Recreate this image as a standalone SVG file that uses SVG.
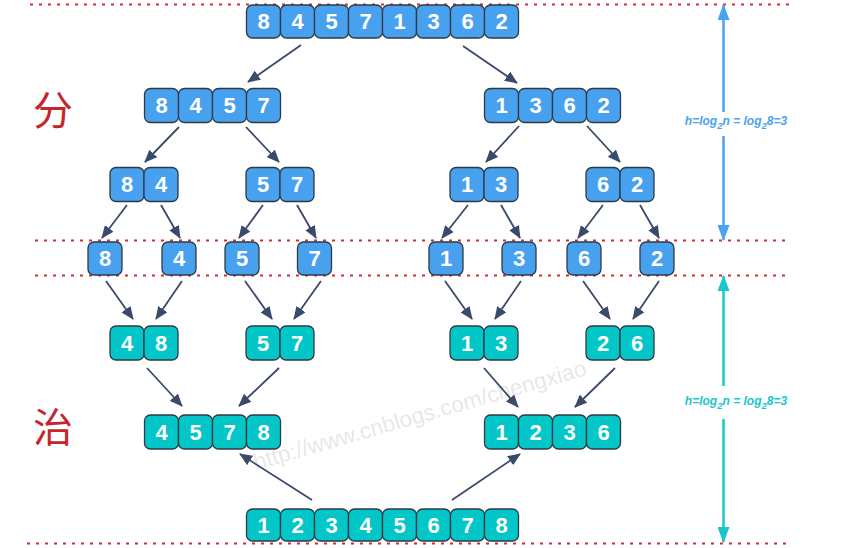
<svg xmlns="http://www.w3.org/2000/svg" width="841" height="548" viewBox="0 0 841 548">
<defs>
<style>
.c rect{stroke:#2e3a46;stroke-width:1.3}
.b rect{fill:#48a1ee}
.t rect{fill:#02c6c8}
.c text{font-family:"Liberation Sans",Arial,sans-serif;font-weight:bold;font-size:22px;fill:#fff;text-anchor:middle}
.dash{stroke:#d22c36;stroke-width:2;stroke-dasharray:3 6;fill:none}
.ar{stroke:#3a4a6a;stroke-width:1.8;fill:none;marker-end:url(#ah)}
.lbl{font-family:"Liberation Sans",Arial,sans-serif;font-weight:bold;font-style:italic;font-size:12px;text-anchor:middle}
.zh{font-family:"Noto Sans CJK SC",sans-serif;font-size:40px;fill:#c4262e;text-anchor:middle}
</style>
<marker id="ah" markerUnits="userSpaceOnUse" markerWidth="13" markerHeight="11" refX="12" refY="5.5" orient="auto"><path d="M0,0 L13,5.5 L0,11 z" fill="#3a4a6a"/></marker>
<marker id="ahb" markerUnits="userSpaceOnUse" markerWidth="16" markerHeight="12" refX="15" refY="6" orient="auto"><path d="M0,0 L16,6 L0,12 z" fill="#4aa3f0"/></marker>
<marker id="aht" markerUnits="userSpaceOnUse" markerWidth="16" markerHeight="12" refX="15" refY="6" orient="auto"><path d="M0,0 L16,6 L0,12 z" fill="#19c6cc"/></marker>
</defs>
<rect width="841" height="548" fill="#fff"/>

<text x="256" y="470" transform="rotate(-16 256 470)" font-family="Liberation Sans,Arial,sans-serif" font-size="22.5" fill="#000" opacity="0.09">http://www.cnblogs.com/chengxiao</text>

<g id="guides">
<line class="dash" x1="30" y1="4.5" x2="790" y2="4.5"/>
<line class="dash" x1="35" y1="240.5" x2="790" y2="240.5"/>
<line class="dash" x1="35" y1="275.5" x2="786" y2="275.5"/>
<line class="dash" x1="27" y1="543.5" x2="790" y2="543.5"/>
</g>

<g id="label-fen"><text class="zh" x="53" y="125">分</text></g>
<g id="label-zhi"><text class="zh" x="53" y="442">治</text></g>

<g id="height-divide">
<line x1="723.5" y1="112" x2="723.5" y2="5" stroke="#4aa3f0" stroke-width="2.5" marker-end="url(#ahb)"/>
<line x1="723.5" y1="136" x2="723.5" y2="240" stroke="#4aa3f0" stroke-width="2.5" marker-end="url(#ahb)"/>
<text class="lbl" x="736" y="125" fill="#4aa3f0">h=log<tspan font-size="9.5" dy="3.5">2</tspan><tspan dy="-3.5">n = log</tspan><tspan font-size="9.5" dy="3.5">2</tspan><tspan dy="-3.5">8=3</tspan></text>
</g>
<g id="height-conquer">
<line x1="723.5" y1="386" x2="723.5" y2="276" stroke="#19c6cc" stroke-width="2.5" marker-end="url(#aht)"/>
<line x1="723.5" y1="419" x2="723.5" y2="542" stroke="#19c6cc" stroke-width="2.5" marker-end="url(#aht)"/>
<text class="lbl" x="736" y="405" fill="#19c6cc">h=log<tspan font-size="9.5" dy="3.5">2</tspan><tspan dy="-3.5">n = log</tspan><tspan font-size="9.5" dy="3.5">2</tspan><tspan dy="-3.5">8=3</tspan></text>
</g>

<g id="connectors">
<line class="ar" x1="301" y1="45" x2="248" y2="82"/>
<line class="ar" x1="463" y1="46" x2="517" y2="83"/>
<line class="ar" x1="179" y1="127" x2="145" y2="162"/>
<line class="ar" x1="246" y1="127" x2="279" y2="162"/>
<line class="ar" x1="519" y1="126" x2="486" y2="162"/>
<line class="ar" x1="587" y1="126" x2="620" y2="162"/>
<line class="ar" x1="127" y1="205" x2="102" y2="238"/>
<line class="ar" x1="161" y1="205" x2="180" y2="238"/>
<line class="ar" x1="263" y1="205" x2="239" y2="238"/>
<line class="ar" x1="297" y1="205" x2="316" y2="238"/>
<line class="ar" x1="468" y1="205" x2="442" y2="238"/>
<line class="ar" x1="501" y1="205" x2="520" y2="238"/>
<line class="ar" x1="603" y1="205" x2="578" y2="238"/>
<line class="ar" x1="640" y1="205" x2="659" y2="238"/>
<line class="ar" x1="106" y1="281" x2="133" y2="319"/>
<line class="ar" x1="182" y1="281" x2="156" y2="319"/>
<line class="ar" x1="245" y1="281" x2="272" y2="319"/>
<line class="ar" x1="321" y1="281" x2="294" y2="319"/>
<line class="ar" x1="445" y1="281" x2="472" y2="319"/>
<line class="ar" x1="521" y1="281" x2="495" y2="319"/>
<line class="ar" x1="583" y1="281" x2="610" y2="319"/>
<line class="ar" x1="659" y1="281" x2="633" y2="319"/>
<line class="ar" x1="147" y1="368" x2="182" y2="406"/>
<line class="ar" x1="279" y1="368" x2="239" y2="406"/>
<line class="ar" x1="484" y1="368" x2="518" y2="407"/>
<line class="ar" x1="615" y1="368" x2="575" y2="407"/>
<line class="ar" x1="312" y1="500" x2="240" y2="454"/>
<line class="ar" x1="452" y1="500" x2="520" y2="454"/>
</g>

<g id="r1" class="c b">
<rect x="246.5" y="5" width="34" height="33" rx="6"/><text x="263.5" y="29">8</text>
<rect x="280.5" y="5" width="34" height="33" rx="6"/><text x="297.5" y="29">4</text>
<rect x="314.5" y="5" width="34" height="33" rx="6"/><text x="331.5" y="29">5</text>
<rect x="348.5" y="5" width="34" height="33" rx="6"/><text x="365.5" y="29">7</text>
<rect x="382.5" y="5" width="34" height="33" rx="6"/><text x="399.5" y="29">1</text>
<rect x="416.5" y="5" width="34" height="33" rx="6"/><text x="433.5" y="29">3</text>
<rect x="450.5" y="5" width="34" height="33" rx="6"/><text x="467.5" y="29">6</text>
<rect x="484.5" y="5" width="34" height="33" rx="6"/><text x="501.5" y="29">2</text>
</g>

<g id="r2a" class="c b">
<rect x="144.5" y="88.5" width="34" height="34" rx="6"/><text x="161.5" y="113">8</text>
<rect x="178.5" y="88.5" width="34" height="34" rx="6"/><text x="195.5" y="113">4</text>
<rect x="212.5" y="88.5" width="34" height="34" rx="6"/><text x="229.5" y="113">5</text>
<rect x="246.5" y="88.5" width="34" height="34" rx="6"/><text x="263.5" y="113">7</text>
</g>
<g id="r2b" class="c b">
<rect x="484.5" y="88.5" width="34" height="34" rx="6"/><text x="501.5" y="113">1</text>
<rect x="518.5" y="88.5" width="34" height="34" rx="6"/><text x="535.5" y="113">3</text>
<rect x="552.5" y="88.5" width="34" height="34" rx="6"/><text x="569.5" y="113">6</text>
<rect x="586.5" y="88.5" width="34" height="34" rx="6"/><text x="603.5" y="113">2</text>
</g>

<g id="r3a" class="c b">
<rect x="110" y="167.5" width="34" height="34" rx="6"/><text x="127" y="192">8</text>
<rect x="144" y="167.5" width="34" height="34" rx="6"/><text x="161" y="192">4</text>
</g>
<g id="r3b" class="c b">
<rect x="246" y="167.5" width="34" height="34" rx="6"/><text x="263" y="192">5</text>
<rect x="280" y="167.5" width="34" height="34" rx="6"/><text x="297" y="192">7</text>
</g>
<g id="r3c" class="c b">
<rect x="450" y="167.5" width="34" height="34" rx="6"/><text x="467" y="192">1</text>
<rect x="484" y="167.5" width="34" height="34" rx="6"/><text x="501" y="192">3</text>
</g>
<g id="r3d" class="c b">
<rect x="586" y="167.5" width="34" height="34" rx="6"/><text x="603" y="192">6</text>
<rect x="620" y="167.5" width="34" height="34" rx="6"/><text x="637" y="192">2</text>
</g>

<g id="r4a" class="c b"><rect x="88" y="242" width="34" height="33" rx="6"/><text x="105" y="266">8</text></g>
<g id="r4b" class="c b"><rect x="162" y="242" width="34" height="33" rx="6"/><text x="179" y="266">4</text></g>
<g id="r4c" class="c b"><rect x="225" y="242" width="34" height="33" rx="6"/><text x="242" y="266">5</text></g>
<g id="r4d" class="c b"><rect x="297.5" y="242" width="34" height="33" rx="6"/><text x="314.5" y="266">7</text></g>
<g id="r4e" class="c b"><rect x="429" y="242" width="34" height="33" rx="6"/><text x="446" y="266">1</text></g>
<g id="r4f" class="c b"><rect x="502" y="242" width="34" height="33" rx="6"/><text x="519" y="266">3</text></g>
<g id="r4g" class="c b"><rect x="567" y="242" width="34" height="33" rx="6"/><text x="584" y="266">6</text></g>
<g id="r4h" class="c b"><rect x="640" y="242" width="34" height="33" rx="6"/><text x="657" y="266">2</text></g>

<g id="r5a" class="c t">
<rect x="110" y="326" width="34" height="34" rx="6"/><text x="127" y="350.5">4</text>
<rect x="144" y="326" width="34" height="34" rx="6"/><text x="161" y="350.5">8</text>
</g>
<g id="r5b" class="c t">
<rect x="246" y="326" width="34" height="34" rx="6"/><text x="263" y="350.5">5</text>
<rect x="280" y="326" width="34" height="34" rx="6"/><text x="297" y="350.5">7</text>
</g>
<g id="r5c" class="c t">
<rect x="450" y="326" width="34" height="34" rx="6"/><text x="467" y="350.5">1</text>
<rect x="484" y="326" width="34" height="34" rx="6"/><text x="501" y="350.5">3</text>
</g>
<g id="r5d" class="c t">
<rect x="586" y="326" width="34" height="34" rx="6"/><text x="603" y="350.5">2</text>
<rect x="620" y="326" width="34" height="34" rx="6"/><text x="637" y="350.5">6</text>
</g>

<g id="r6a" class="c t">
<rect x="144.5" y="415" width="34" height="34" rx="6"/><text x="161.5" y="439.5">4</text>
<rect x="178.5" y="415" width="34" height="34" rx="6"/><text x="195.5" y="439.5">5</text>
<rect x="212.5" y="415" width="34" height="34" rx="6"/><text x="229.5" y="439.5">7</text>
<rect x="246.5" y="415" width="34" height="34" rx="6"/><text x="263.5" y="439.5">8</text>
</g>
<g id="r6b" class="c t">
<rect x="484.5" y="415" width="34" height="34" rx="6"/><text x="501.5" y="439.5">1</text>
<rect x="518.5" y="415" width="34" height="34" rx="6"/><text x="535.5" y="439.5">2</text>
<rect x="552.5" y="415" width="34" height="34" rx="6"/><text x="569.5" y="439.5">3</text>
<rect x="586.5" y="415" width="34" height="34" rx="6"/><text x="603.5" y="439.5">6</text>
</g>

<g id="r7" class="c t">
<rect x="246.5" y="509" width="34" height="32" rx="6"/><text x="263.5" y="532.5">1</text>
<rect x="280.5" y="509" width="34" height="32" rx="6"/><text x="297.5" y="532.5">2</text>
<rect x="314.5" y="509" width="34" height="32" rx="6"/><text x="331.5" y="532.5">3</text>
<rect x="348.5" y="509" width="34" height="32" rx="6"/><text x="365.5" y="532.5">4</text>
<rect x="382.5" y="509" width="34" height="32" rx="6"/><text x="399.5" y="532.5">5</text>
<rect x="416.5" y="509" width="34" height="32" rx="6"/><text x="433.5" y="532.5">6</text>
<rect x="450.5" y="509" width="34" height="32" rx="6"/><text x="467.5" y="532.5">7</text>
<rect x="484.5" y="509" width="34" height="32" rx="6"/><text x="501.5" y="532.5">8</text>
</g>
</svg>
